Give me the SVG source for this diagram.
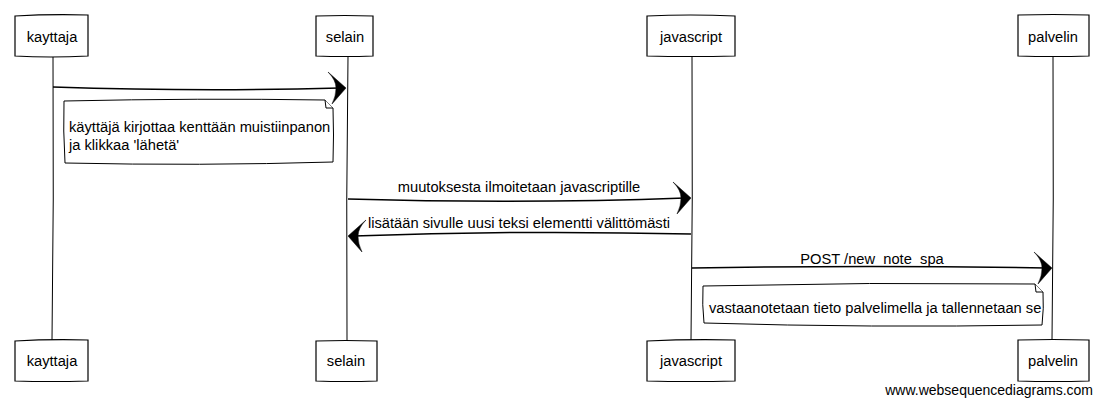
<svg xmlns="http://www.w3.org/2000/svg" xmlns:xlink="http://www.w3.org/1999/xlink" width="1103" height="405" viewBox="0 0 1103 405">
<style>
.box{fill:#fff;stroke:#000;stroke-width:1.2}
.life{fill:none;stroke:#000;stroke-width:1}
.msg{fill:none;stroke:#000;stroke-width:1.5}
.note{fill:#fff;stroke:#000;stroke-width:1}
.head{fill:#000;stroke:#000;stroke-width:0.5}
text{font-family:"Liberation Sans",Arial,sans-serif;font-size:14.7px;fill:#000}
.c{text-anchor:middle}
</style>
<defs>
<path id="head" class="head" d="M0,0 L-18,-16 Q-10,-8 -10,0 Q-10,8 -14,16 Z"/>
</defs>
<g id="lifelines">
<path class="life" d="M53,56 Q54,200 52,340"/>
<path class="life" d="M348,56 Q346,200 347,340"/>
<path class="life" d="M692,56 Q693,200 691,340"/>
<path class="life" d="M1053,56 Q1054,200 1052,340"/>
</g>
<g id="connectors">
<path class="msg" d="M53,87 Q200,92 340,88"/>
<use xlink:href="#head" href="#head" transform="translate(346,88)"/>
<path class="msg" d="M348,199 Q520,204 685,198"/>
<use xlink:href="#head" href="#head" transform="translate(691,198)"/>
<path class="msg" d="M691,234 Q520,230 354,236"/>
<use xlink:href="#head" href="#head" transform="translate(348,236) scale(-1,1)"/>
<path class="msg" d="M692,268 Q870,265 1046,268"/>
<use xlink:href="#head" href="#head" transform="translate(1052,268)"/>
<text class="c" x="519" y="192">muutoksesta ilmoitetaan javascriptille</text>
<text class="c" x="519" y="228">lisätään sivulle uusi teksi elementti välittömästi</text>
<text class="c" x="872" y="264">POST /new_note_spa</text>
</g>
<g id="note1">
<path class="note" d="M64,101 Q200,98 325,100 L333,108 Q334,135 333,162 Q200,166 65,163 Q63,130 64,101 Z"/>
<path class="note" d="M325,100 L326,108 L333,108"/>
<text x="69" y="132">käyttäjä kirjottaa kenttään muistiinpanon</text>
<text x="69" y="150">ja klikkaa 'lähetä'</text>
</g>
<g id="note2">
<path class="note" d="M703,286 Q870,282 1035,284 L1043,292 Q1044,308 1042,325 Q870,328 704,323 Q702,305 703,286 Z"/>
<path class="note" d="M1035,284 L1036,292 L1043,292"/>
<text x="709" y="313">vastaanotetaan tieto palvelimella ja tallennetaan se</text>
</g>
<g id="kayttaja_top"><path class="box" d="M15,16 Q50,14 88,15 L88,56 Q50,58 15,56 Z"/><text class="c" x="52" y="42">kayttaja</text></g>
<g id="selain_top"><path class="box" d="M316,16 Q345,15 373,16 L373,56 Q345,57 316,56 Z"/><text class="c" x="345" y="42">selain</text></g>
<g id="javascript_top"><path class="box" d="M647,16 Q690,14 735,16 L735,56 Q690,57 647,56 Z"/><text class="c" x="691" y="42">javascript</text></g>
<g id="palvelin_top"><path class="box" d="M1018,15 Q1053,14 1089,15 L1089,56 Q1053,57 1018,56 Z"/><text class="c" x="1053" y="42">palvelin</text></g>
<g id="kayttaja_bottom"><path class="box" d="M15,341 Q50,339 88,340 L88,381 Q50,382 15,381 Z"/><text class="c" x="52" y="366">kayttaja</text></g>
<g id="selain_bottom"><path class="box" d="M316,341 Q345,340 377,341 L377,381 Q345,382 316,381 Z"/><text class="c" x="346" y="366">selain</text></g>
<g id="javascript_bottom"><path class="box" d="M647,341 Q690,339 735,340 L735,381 Q690,382 647,381 Z"/><text class="c" x="691" y="366">javascript</text></g>
<g id="palvelin_bottom"><path class="box" d="M1018,340 Q1053,339 1089,340 L1089,381 Q1053,382 1018,381 Z"/><text class="c" x="1053" y="366">palvelin</text></g>
<text x="1093" y="395" text-anchor="end" style="font-size:14px">www.websequencediagrams.com</text>
</svg>
